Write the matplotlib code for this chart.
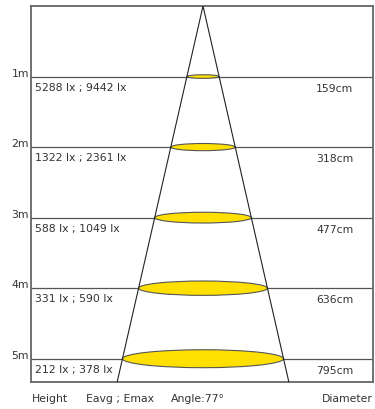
import matplotlib
matplotlib.use("Agg")
import matplotlib.pyplot as plt
from matplotlib.patches import Ellipse

# mounting heights (m), illuminance and spot diameter
heights = [1, 2, 3, 4, 5]
height_labels = ["1m", "2m", "3m", "4m", "5m"]
lux_labels = ["5288 lx ; 9442 lx", "1322 lx ; 2361 lx", "588 lx ; 1049 lx",
              "331 lx ; 590 lx", "212 lx ; 378 lx"]
diameters = [159, 318, 477, 636, 795]
diameter_labels = ["159cm", "318cm", "477cm", "636cm", "795cm"]
angle = 77

fig = plt.figure(figsize=(3.75, 4.09), dpi=100)
ax = fig.add_axes([31 / 375, 27 / 409, 342 / 375, 376 / 409])

y_bottom = 5.33
ax.set_xlim(-849, 839)
ax.set_ylim(y_bottom, 0)
ax.set_xticks([])
ax.set_yticks([])
for s in ax.spines.values():
    s.set_color("#666666")
    s.set_linewidth(1.3)

txt = "#333333"
fs = 7.8

# horizontal height lines
for h in heights:
    ax.axhline(h, color="#555555", lw=0.9, zorder=1)

# beam cone
half = diameters[-1] / 2 / heights[-1]
ext = y_bottom * 1.05
ax.plot([-half * ext, 0, half * ext], [ext, 0, ext], color="#222222", lw=0.8, zorder=3)

# light spots
for h, d in zip(heights, diameters):
    e = Ellipse((0, h), d, d * 0.00032, facecolor="#ffe000", edgecolor="#555555",
                lw=0.8, zorder=2)
    ax.add_patch(e)

for h, hl, ll, dl in zip(heights, height_labels, lux_labels, diameter_labels):
    ax.text(-858, h - 0.04, hl, ha="right", va="center", fontsize=fs, color=txt,
            clip_on=False)
    ax.text(-829, h + 0.16, ll, ha="left", va="center", fontsize=fs, color=txt)
    ax.text(650, h + 0.17, dl, ha="center", va="center", fontsize=fs, color=txt)

fig.text(32 / 375, 1 - 399 / 409, "Height", ha="left", va="center", fontsize=fs, color=txt)
fig.text(86 / 375, 1 - 399 / 409, "Eavg ; Emax", ha="left", va="center", fontsize=fs, color=txt)
fig.text(171 / 375, 1 - 399 / 409, "Angle:%d°" % angle, ha="left", va="center", fontsize=fs, color=txt)
fig.text(373 / 375, 1 - 399 / 409, "Diameter", ha="right", va="center", fontsize=fs, color=txt)

fig.savefig("out.png", dpi=100)
